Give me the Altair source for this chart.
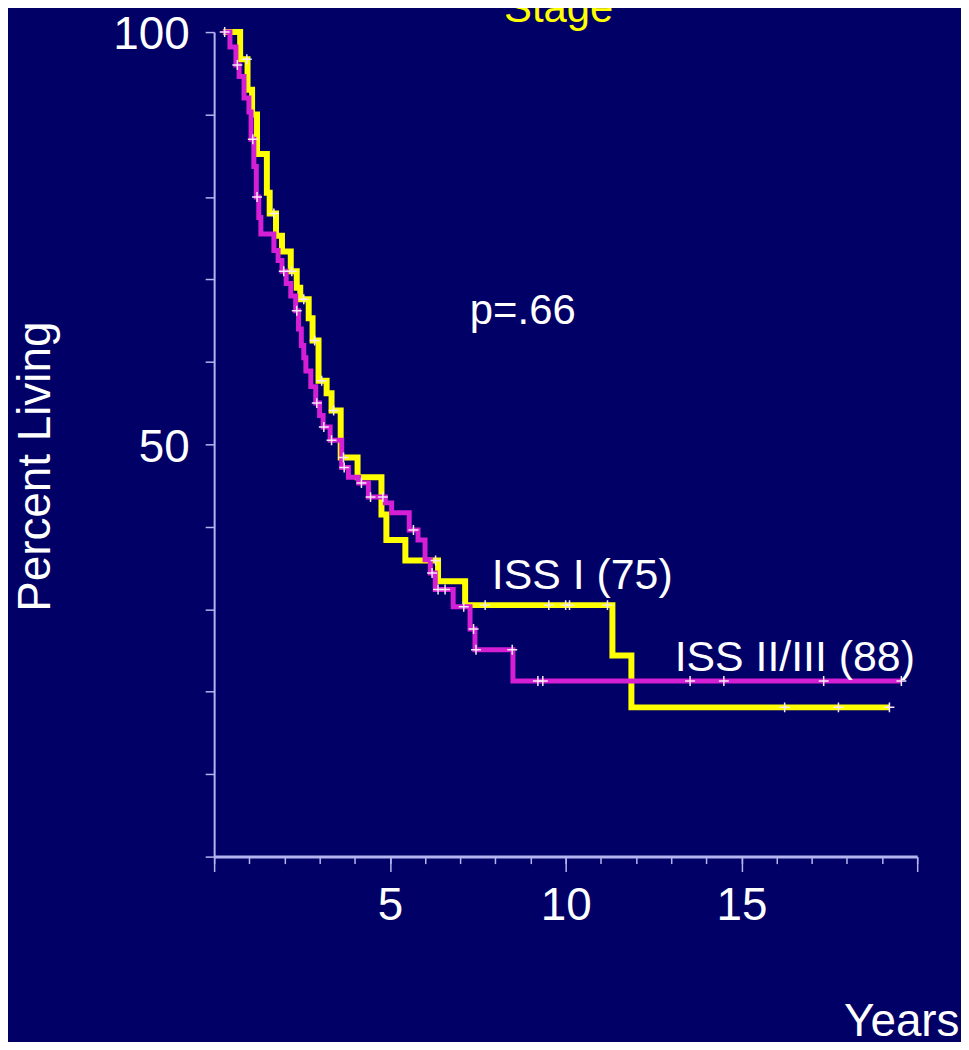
import altair as alt
import pandas as pd

# ---- data ----
iss1_time = [0.25, 0.74, 0.95, 1.08, 1.22, 1.50, 1.58, 1.76, 1.93, 2.18,
             2.35, 2.45, 2.69, 2.80, 2.97, 3.20, 3.34, 3.60, 4.08, 4.76,
             4.90, 5.44, 6.37, 7.14, 11.33, 11.87, 19.21]
iss1_surv = [100, 96.7, 93.0, 90.0, 85.2, 80.5, 78.0, 75.3, 73.4, 71.0,
             69.0, 67.6, 65.3, 62.6, 57.7, 56.2, 54.1, 48.4, 46.0, 41.5,
             38.4, 35.9, 33.4, 30.5, 24.4, 18.1, 18.1]

iss23_time = [0.25, 0.45, 0.62, 0.71, 0.85, 0.99, 1.05, 1.13, 1.20, 1.27,
              1.33, 1.70, 1.82, 1.93, 2.05, 2.18, 2.32, 2.40, 2.48, 2.55,
              2.61, 2.75, 2.89, 3.00, 3.10, 3.30, 3.63, 3.82, 4.11, 4.39,
              4.87, 5.05, 5.55, 5.80, 6.00, 6.15, 6.29, 6.80, 7.28, 7.42,
              8.50, 19.55]
iss23_surv = [100, 98.2, 96.0, 94.6, 92.0, 90.3, 87.0, 83.7, 80.0, 77.5,
              75.5, 73.5, 72.3, 71.0, 69.5, 68.0, 66.2, 64.0, 62.0, 60.5,
              58.9, 57.0, 55.0, 53.5, 52.1, 50.5, 47.2, 46.0, 45.3, 43.6,
              42.9, 41.7, 39.6, 38.4, 36.0, 34.4, 32.4, 30.3, 27.6, 25.1,
              21.3, 21.3]

iss1_cens_t = [0.93, 1.70, 2.21, 2.55, 2.86, 3.06, 3.40, 3.68, 6.30, 7.71,
               9.52, 10.0, 10.11, 11.19, 16.23, 17.76, 19.21]
iss1_cens_s = [96.7, 78.0, 71.0, 67.6, 62.6, 57.7, 54.1, 48.4, 35.9, 30.5,
               30.5, 30.5, 30.5, 30.5, 18.1, 18.1, 18.1]

iss23_cens_t = [0.30, 0.66, 1.10, 1.22, 1.98, 2.35, 2.92, 3.12, 3.34, 3.70,
                4.19, 4.45, 4.80, 5.67, 6.20, 6.37, 6.57, 7.10, 7.38, 7.45,
                8.48, 9.21, 9.35, 13.54, 14.50, 17.34, 19.55]
iss23_cens_s = [100, 96.0, 87.0, 80.0, 71.0, 66.2, 55.0, 52.1, 50.5, 47.2,
                45.3, 43.6, 43.6, 39.6, 34.4, 32.4, 32.4, 30.3, 27.6, 25.1,
                25.1, 21.3, 21.3, 21.3, 21.3, 21.3, 21.3]

x_major_ticks = [0, 5, 10, 15, 20]
x_minor_ticks = list(range(0, 21))
y_ticks = list(range(0, 101, 10))

annot_labels = ["ISS I (75)", "ISS II/III (88)"]
annot_x = [7.90, 13.10]
annot_y = [32.4, 22.5]
p_text = ["p=.66"]
p_x = [8.78]
p_y = [64.6]
title_text = ["Stage"]
title_x = [9.8]
title_y = [101.2]

# ---- styling ----
BG = "#000066"
YEL = "#ffff00"
MAG = "#d41fd4"
AXC = "#b4b4f0"
FONT = "Liberation Sans"

df1 = pd.DataFrame({"t": iss1_time, "s": iss1_surv})
df2 = pd.DataFrame({"t": iss23_time, "s": iss23_surv})
dfc = pd.DataFrame({"t": iss1_cens_t + iss23_cens_t,
                    "s": iss1_cens_s + iss23_cens_s})
dfa = pd.DataFrame({"t": annot_x, "s": annot_y, "txt": annot_labels})
dfp = pd.DataFrame({"t": p_x, "s": p_y, "txt": p_text})
dft = pd.DataFrame({"t": title_x, "s": title_y, "txt": title_text})

xscale = alt.Scale(domain=[0, 20], nice=False, zero=False)
yscale = alt.Scale(domain=[0, 100], nice=False)

x_major_axis = alt.Axis(
    orient="bottom", values=x_major_ticks, tickSize=15, tickWidth=1.5, tickColor=AXC,
    domain=True, domainColor=AXC, domainWidth=3, grid=False,
    labelExpr="(datum.value == 5 || datum.value == 10 || datum.value == 15) ? datum.label : ''",
    labelFont=FONT, labelFontSize=46, labelColor="white", labelPadding=12,
    labelFlush=False, labelOverlap=False,
    title="Years", titleFont=FONT, titleFontSize=46, titleColor="white",
    titleFontWeight="normal", titleX=748, titleY=180, titleAlign="right",
    titleBaseline="alphabetic", titleAnchor="end",
)
x_minor_axis = alt.Axis(
    orient="bottom", values=x_minor_ticks, tickSize=7, tickWidth=1.5, tickColor=AXC,
    domain=False, grid=False, labels=False, title=None,
)
y_axis = alt.Axis(
    values=y_ticks, tickSize=9, tickWidth=1.5, tickColor=AXC,
    domain=True, domainColor=AXC, domainWidth=2, grid=False,
    labelExpr="(datum.value == 50 || datum.value == 100) ? datum.label : ''",
    labelFont=FONT, labelFontSize=46, labelColor="white", labelPadding=16,
    labelBaseline="middle", labelOffset=3, labelOverlap=False, labelFlush=False,
    title="Percent Living", titleFont=FONT, titleFontSize=46, titleColor="white",
    titleFontWeight="normal", titleAngle=270, titleX=-165, titleY=436,
    titleAlign="center", titleBaseline="alphabetic",
)

Y = alt.Y("s:Q", scale=yscale, axis=y_axis)

yellow = alt.Chart(df1).mark_line(interpolate="step-after", color=YEL, strokeWidth=6).encode(
    x=alt.X("t:Q", scale=xscale, axis=x_major_axis),
    y=Y,
)
magenta = alt.Chart(df2).mark_line(interpolate="step-after", color=MAG, strokeWidth=5).encode(
    x=alt.X("t:Q", scale=xscale, axis=x_minor_axis),
    y=Y,
)
cens = alt.Chart(dfc).mark_point(
    shape="M-1,0L1,0M0,-1L0,1", size=100, filled=False,
    stroke="#f6eaf6", strokeWidth=1.5, opacity=1,
).encode(
    x=alt.X("t:Q", scale=xscale, axis=None),
    y=Y,
)
annot = alt.Chart(dfa).mark_text(
    align="left", baseline="alphabetic", font=FONT, fontSize=43, color="white",
).encode(
    x=alt.X("t:Q", scale=xscale, axis=None),
    y=Y,
    text="txt:N",
)
ptext = alt.Chart(dfp).mark_text(
    align="center", baseline="alphabetic", font=FONT, fontSize=42, color="white",
).encode(
    x=alt.X("t:Q", scale=xscale, axis=None),
    y=Y,
    text="txt:N",
)
ttext = alt.Chart(dft).mark_text(
    align="center", baseline="alphabetic", font=FONT, fontSize=42, color=YEL,
).encode(
    x=alt.X("t:Q", scale=xscale, axis=None),
    y=Y,
    text="txt:N",
)

chart = alt.layer(yellow, magenta, cens, annot, ptext, ttext).resolve_axis(
    x="independent", y="shared"
).properties(
    width=706, height=828,
    autosize=alt.AutoSizeParams(type="none"),
    padding={"left": 207, "top": 22, "right": 44, "bottom": 184},
    background=BG,
).configure_view(stroke=None)

chart.save("out.html", embed_options={"renderer": "svg", "actions": False})
